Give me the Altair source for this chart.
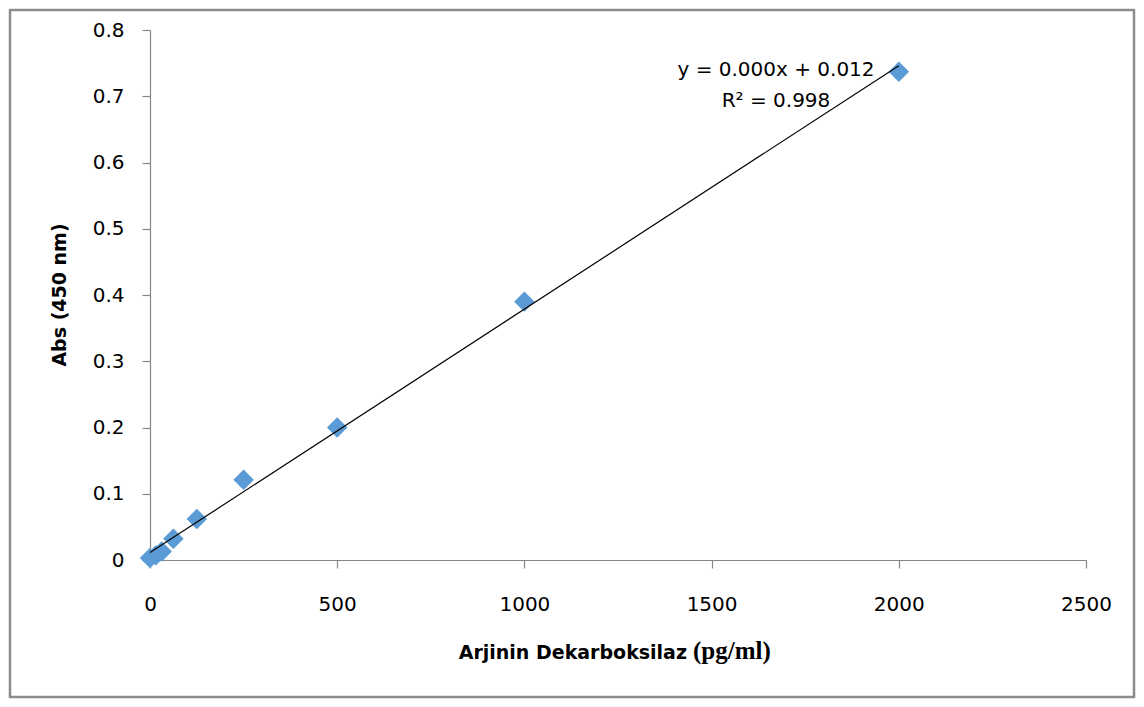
import altair as alt
import pandas as pd

# ---- data ----
conc = [0, 15.625, 31.25, 62.5, 125, 250, 500, 1000, 2000]
absorb = [0.003, 0.007, 0.013, 0.032, 0.062, 0.121, 0.200, 0.390, 0.737]
x_ticks = [0, 500, 1000, 1500, 2000, 2500]
y_ticks = [0, 0.1, 0.2, 0.3, 0.4, 0.5, 0.6, 0.7, 0.8]
eq_text = ["y = 0.000x + 0.012"]
r2_text = ["R² = 0.998"]
x_title_main = ["Arjinin Dekarboksilaz"]
x_title_unit = ["(pg/ml)"]
y_title = ["Abs (450 nm)"]

df = pd.DataFrame({"conc": conc, "abs": absorb})

W, H = 936, 530
PAD = {"left": 142, "top": 22, "right": 50, "bottom": 139}

xs = alt.Scale(domain=[0, 2500], nice=False, zero=False)
ys = alt.Scale(domain=[0, 0.8], nice=False, zero=False)

base = alt.Chart(df)

points = base.mark_point(
    shape="diamond", filled=True, size=420, color="#5B9BD5", opacity=1
).encode(
    x=alt.X("conc:Q", scale=xs,
            axis=alt.Axis(values=x_ticks, title=None, format="d", labelPadding=26,
                          labelFlush=False)),
    y=alt.Y("abs:Q", scale=ys,
            axis=alt.Axis(values=y_ticks, title=None, format=".1~f", labelPadding=18,
                          labelFlush=False)),
)

trend = base.transform_regression("conc", "abs").mark_line(
    color="black", strokeWidth=1.2
).encode(
    x=alt.X("conc:Q", scale=xs),
    y=alt.Y("abs:Q", scale=ys),
)


def text_layer(values, x, y, **kw):
    d = pd.DataFrame({"t": values})
    return alt.Chart(d).mark_text(**kw).encode(
        text="t:N", x=alt.value(x), y=alt.value(y)
    )


eq = text_layer(eq_text, 626, 46, font="DejaVu Sans", fontSize=20,
                align="center", baseline="alphabetic", color="black")
r2 = text_layer(r2_text, 626, 77, font="DejaVu Sans", fontSize=20,
                align="center", baseline="alphabetic", color="black")
xt1 = text_layer(x_title_main, 537, 629, font="DejaVu Sans", fontSize=19,
                 fontWeight="bold", align="right", baseline="alphabetic", color="black")
xt2 = text_layer(x_title_unit, 543, 629, font="Liberation Serif", fontSize=25,
                 fontWeight="bold", align="left", baseline="alphabetic", color="black")
yt = text_layer(y_title, -90, 265, font="DejaVu Sans", fontSize=19,
                fontWeight="bold", align="center", baseline="middle", angle=270,
                color="black")

frame = alt.Chart(pd.DataFrame({"k": [1]})).mark_rect(
    filled=False, stroke="#8c8c8c", strokeWidth=2.5
).encode(
    x=alt.value(-140), x2=alt.value(W + 48),
    y=alt.value(-20), y2=alt.value(H + 137),
)

chart = alt.layer(frame, points, trend, eq, r2, xt1, xt2, yt).properties(
    width=W, height=H, padding=PAD,
    autosize=alt.AutoSizeParams(type="none"),
    background="white",
).configure_view(
    stroke="transparent"
).configure_axis(
    grid=False,
    domainColor="#868686", domainWidth=1.2,
    tickColor="#868686", tickWidth=1.2, tickSize=8,
    labelFont="DejaVu Sans", labelFontSize=20, labelColor="black",
)

chart.save("out.html", embed_options={"renderer": "svg", "actions": False})
